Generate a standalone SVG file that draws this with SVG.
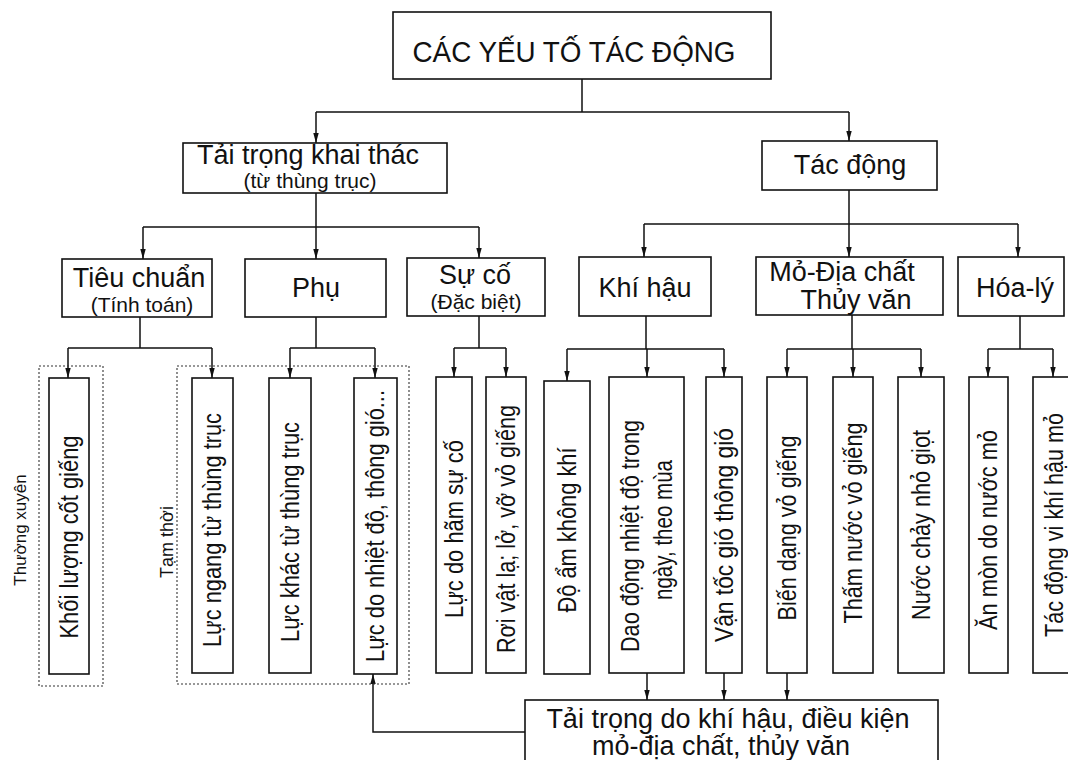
<svg xmlns="http://www.w3.org/2000/svg" width="1068" height="760" viewBox="0 0 1068 760">
<defs>
<style>
.bx{fill:#fff;stroke:#111;stroke-width:1.6}
.dt{fill:none;stroke:#333;stroke-width:1.1;stroke-dasharray:2 2}
.ln{fill:none;stroke:#111;stroke-width:1.5}
.ar{fill:none;stroke:#111;stroke-width:1.5;marker-end:url(#ah)}
text{font-family:"Liberation Sans",Arial,sans-serif;fill:#111}
.t1{font-size:29px;text-anchor:middle}
.t2{font-size:27px;text-anchor:middle}
.t3{font-size:21px;text-anchor:middle}
.tv{font-size:25px;text-anchor:middle}
.tl{font-size:17px;text-anchor:middle}
</style>
<marker id="ah" viewBox="0 0 10 10" refX="10" refY="5" markerWidth="10" markerHeight="10" markerUnits="userSpaceOnUse" orient="auto">
<path d="M0,2.3 L10,5 L0,7.7 z" fill="#111"/>
</marker>
</defs>
<rect width="1068" height="760" fill="#fff"/>

<g id="connectors">
<path class="ln" d="M582,79 V112 M316,112 H849"/>
<path class="ar" d="M316,112 V143"/>
<path class="ar" d="M849,112 V141"/>
<path class="ln" d="M316,193 V227 M143,227 H479"/>
<path class="ar" d="M143,227 V259"/>
<path class="ar" d="M316,227 V259"/>
<path class="ar" d="M479,227 V258"/>
<path class="ln" d="M849,190 V224 M644,224 H1018"/>
<path class="ar" d="M644,224 V257"/>
<path class="ar" d="M849,224 V257"/>
<path class="ar" d="M1018,224 V257"/>
<path class="ln" d="M140,317 V348 M68,348 H212"/>
<path class="ar" d="M68,348 V378"/>
<path class="ar" d="M212,348 V378"/>
<path class="ln" d="M316,317 V348 M290,348 H375"/>
<path class="ar" d="M290,348 V378"/>
<path class="ar" d="M375,348 V378"/>
<path class="ln" d="M479,316 V348 M454,348 H506"/>
<path class="ar" d="M454,348 V377"/>
<path class="ar" d="M506,348 V377"/>
<path class="ln" d="M646,316 V349 M567,349 H724"/>
<path class="ar" d="M567,349 V381"/>
<path class="ar" d="M647,349 V377"/>
<path class="ar" d="M724,349 V377"/>
<path class="ln" d="M852,315 V349 M787,349 H921"/>
<path class="ar" d="M787,349 V377"/>
<path class="ar" d="M853,349 V377"/>
<path class="ar" d="M921,349 V377"/>
<path class="ln" d="M1020,316 V349 M988,349 H1053"/>
<path class="ar" d="M988,349 V377"/>
<path class="ar" d="M1053,349 V377"/>
<path class="ar" d="M647,673 V700"/>
<path class="ar" d="M724,673 V700"/>
<path class="ar" d="M787,673 V700"/>
<path class="ar" d="M525,732 H373 V674"/>
</g>

<g id="n-root">
<rect class="bx" x="393" y="12" width="378" height="67"/>
<text class="t1" x="574" y="62" textLength="323" lengthAdjust="spacingAndGlyphs">CÁC YẾU TỐ TÁC ĐỘNG</text>
</g>
<g id="n-taitrong">
<rect class="bx" x="183" y="143" width="264" height="50"/>
<text class="t2" x="308" y="164">Tải trọng khai thác</text>
<text class="t3" x="310" y="188">(từ thùng trục)</text>
</g>
<g id="n-tacdong">
<rect class="bx" x="762" y="141" width="175" height="49"/>
<text class="t2" x="850" y="174">Tác động</text>
</g>
<g id="n-tieuchuan">
<rect class="bx" x="62" y="259" width="150" height="58"/>
<text class="t2" x="139" y="287">Tiêu chuẩn</text>
<text class="t3" x="142" y="312">(Tính toán)</text>
</g>
<g id="n-phu">
<rect class="bx" x="245" y="259" width="141" height="58"/>
<text class="t2" x="316" y="297">Phụ</text>
</g>
<g id="n-suco">
<rect class="bx" x="407" y="258" width="138" height="58"/>
<text class="t2" x="475" y="284">Sự cố</text>
<text class="t3" x="476" y="309">(Đặc biệt)</text>
</g>
<g id="n-khihau">
<rect class="bx" x="579" y="257" width="132" height="59"/>
<text class="t2" x="645" y="297">Khí hậu</text>
</g>
<g id="n-modiachat">
<rect class="bx" x="756" y="257" width="187" height="58"/>
<text class="t2" x="842" y="281">Mỏ-Địa chất</text>
<text class="t2" x="856" y="309">Thủy văn</text>
</g>
<g id="n-hoaly">
<rect class="bx" x="958" y="257" width="106" height="59"/>
<text class="t2" x="1015" y="297">Hóa-lý</text>
</g>

<g id="g-thuongxuyen">
<rect class="dt" x="39" y="366" width="64" height="320"/>
<text class="tl" transform="translate(26,530) rotate(-90)">Thường xuyên</text>
</g>
<g id="g-tamthoi">
<rect class="dt" x="177" y="366" width="232" height="318"/>
<text class="tl" transform="translate(173,542) rotate(-90)" style="font-size:18px">Tạm thời</text>
</g>

<g id="n-khoiluong">
<rect class="bx" x="49" y="378" width="40" height="296"/>
<text class="tv" transform="translate(78,537) rotate(-90)" textLength="203" lengthAdjust="spacingAndGlyphs">Khối lượng cốt giếng</text>
</g>
<g id="n-lucngang">
<rect class="bx" x="192" y="378" width="41" height="295"/>
<text class="tv" transform="translate(221,530) rotate(-90)" textLength="234" lengthAdjust="spacingAndGlyphs">Lực ngang từ thùng trục</text>
</g>
<g id="n-luckhac">
<rect class="bx" x="269" y="378" width="42" height="295"/>
<text class="tv" transform="translate(299,532) rotate(-90)" textLength="220" lengthAdjust="spacingAndGlyphs">Lực khác từ thùng trục</text>
</g>
<g id="n-lucnhiet">
<rect class="bx" x="354" y="378" width="43" height="296"/>
<text class="tv" transform="translate(384,526) rotate(-90)" textLength="272" lengthAdjust="spacingAndGlyphs">Lực do nhiệt độ, thông gió...</text>
</g>
<g id="n-lucham">
<rect class="bx" x="436" y="377" width="36" height="296"/>
<text class="tv" transform="translate(463,529) rotate(-90)" textLength="178" lengthAdjust="spacingAndGlyphs">Lực do hãm sự cố</text>
</g>
<g id="n-roivat">
<rect class="bx" x="486" y="377" width="40" height="296"/>
<text class="tv" transform="translate(515,529) rotate(-90)" textLength="248" lengthAdjust="spacingAndGlyphs">Rơi vật lạ; lở, vỡ vỏ giếng</text>
</g>
<g id="n-doam">
<rect class="bx" x="544" y="381" width="46" height="293"/>
<text class="tv" transform="translate(576,530) rotate(-90)" textLength="165" lengthAdjust="spacingAndGlyphs">Độ ẩm không khí</text>
</g>
<g id="n-daodong">
<rect class="bx" x="609" y="377" width="75" height="296"/>
<text class="tv" transform="translate(639,536) rotate(-90)" textLength="232" lengthAdjust="spacingAndGlyphs">Dao động nhiệt độ trong</text>
<text class="tv" transform="translate(672,530) rotate(-90)" textLength="140" lengthAdjust="spacingAndGlyphs">ngày, theo mùa</text>
</g>
<g id="n-vantoc">
<rect class="bx" x="706" y="377" width="36" height="296"/>
<text class="tv" transform="translate(733,535) rotate(-90)" textLength="214" lengthAdjust="spacingAndGlyphs">Vận tốc gió thông gió</text>
</g>
<g id="n-biendang">
<rect class="bx" x="767" y="377" width="40" height="296"/>
<text class="tv" transform="translate(796,528) rotate(-90)" textLength="185" lengthAdjust="spacingAndGlyphs">Biến dạng vỏ giếng</text>
</g>
<g id="n-thamnuoc">
<rect class="bx" x="833" y="377" width="40" height="296"/>
<text class="tv" transform="translate(862,523) rotate(-90)" textLength="201" lengthAdjust="spacingAndGlyphs">Thấm nước vỏ giếng</text>
</g>
<g id="n-nuocchay">
<rect class="bx" x="898" y="377" width="46" height="296"/>
<text class="tv" transform="translate(930,525) rotate(-90)" textLength="190" lengthAdjust="spacingAndGlyphs">Nước chảy nhỏ giọt</text>
</g>
<g id="n-anmon">
<rect class="bx" x="969" y="377" width="39" height="296"/>
<text class="tv" transform="translate(997,530) rotate(-90)" textLength="200" lengthAdjust="spacingAndGlyphs">Ăn mòn do nước mỏ</text>
</g>
<g id="n-vikhihau">
<rect class="bx" x="1033" y="377" width="42" height="296"/>
<text class="tv" transform="translate(1063,525) rotate(-90)" textLength="224" lengthAdjust="spacingAndGlyphs">Tác động vi khí hậu mỏ</text>
</g>

<g id="n-taitrongkhihau">
<rect class="bx" x="525" y="700" width="413" height="70"/>
<text class="t2" x="728" y="728">Tải trọng do khí hậu, điều kiện</text>
<text class="t2" x="721" y="755">mỏ-địa chất, thủy văn</text>
</g>
</svg>
